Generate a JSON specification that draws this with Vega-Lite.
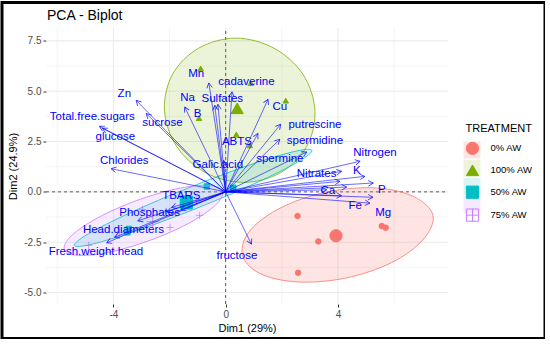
{
  "$schema": "https://vega.github.io/schema/vega-lite/v6.json",
  "width": 543,
  "height": 336,
  "autosize": {"type": "none"},
  "padding": {"left": 2, "top": 2.5, "right": 0, "bottom": 0},
  "background": "white",
  "title": {"text": "PCA - Biplot", "anchor": "start", "frame": "group", "offset": -20, "dx": 45, "fontSize": 14, "fontWeight": "normal", "font": "Liberation Sans", "color": "#000000"},
  "data": {"values": [{}]},
  "datasets": {
    "grid": [
      {"axis": "x", "v": -6, "major": false}, {"axis": "x", "v": -4, "major": true}, {"axis": "x", "v": -2, "major": false},
      {"axis": "x", "v": 0, "major": true}, {"axis": "x", "v": 2, "major": false}, {"axis": "x", "v": 4, "major": true},
      {"axis": "x", "v": 6, "major": false},
      {"axis": "y", "v": -5, "major": true}, {"axis": "y", "v": -3.75, "major": false}, {"axis": "y", "v": -2.5, "major": true},
      {"axis": "y", "v": -1.25, "major": false}, {"axis": "y", "v": 0, "major": true}, {"axis": "y", "v": 1.25, "major": false},
      {"axis": "y", "v": 2.5, "major": true}, {"axis": "y", "v": 3.75, "major": false}, {"axis": "y", "v": 5, "major": true},
      {"axis": "y", "v": 6.25, "major": false}, {"axis": "y", "v": 7.5, "major": true}
    ],
    "pts": [
      {"g": "0% AW", "x": 2.56, "y": -1.2}, {"g": "0% AW", "x": 3.3, "y": -2.46}, {"g": "0% AW", "x": 5.56, "y": -1.7},
      {"g": "0% AW", "x": 5.7, "y": -1.78}, {"g": "0% AW", "x": 2.58, "y": -4.02}, {"g": "0% AW", "x": 3.96, "y": -2.05},
      {"g": "100% AW", "x": -0.89, "y": 6.13}, {"g": "100% AW", "x": -0.95, "y": 3.66}, {"g": "100% AW", "x": 0.38, "y": 2.85},
      {"g": "100% AW", "x": 0.86, "y": 2.31}, {"g": "100% AW", "x": 2.14, "y": 4.53}, {"g": "100% AW", "x": 0.9, "y": 5.4},
      {"g": "50% AW", "x": -0.67, "y": 0.27}, {"g": "50% AW", "x": -1.46, "y": -0.42}, {"g": "50% AW", "x": -1.29, "y": -0.72},
      {"g": "50% AW", "x": -3.45, "y": -1.84}, {"g": "50% AW", "x": -3.5, "y": -2.01}, {"g": "50% AW", "x": 0.27, "y": 0.2},
      {"g": "75% AW", "x": -4.88, "y": -2.66}, {"g": "75% AW", "x": -1.98, "y": -1.77}, {"g": "75% AW", "x": -2.96, "y": -0.87},
      {"g": "75% AW", "x": -1.04, "y": -0.42}, {"g": "75% AW", "x": -3.79, "y": -2.01}, {"g": "75% AW", "x": -0.93, "y": -1.17}
    ],
    "means": [
      {"g": "0% AW", "x": 3.93, "y": -2.18}, {"g": "100% AW", "x": 0.41, "y": 4.15},
      {"g": "50% AW", "x": -1.4, "y": -0.51}, {"g": "75% AW", "x": -2.6, "y": -1.48}
    ],
    "ell": [
      {"g": "0% AW", "i": 0, "x": 7.386, "y": -1.179}, {"g": "0% AW", "i": 1, "x": 7.021, "y": -2.388}, {"g": "0% AW", "i": 2, "x": 5.907, "y": -3.517},
      {"g": "0% AW", "i": 3, "x": 4.268, "y": -4.284}, {"g": "0% AW", "i": 4, "x": 2.546, "y": -4.473}, {"g": "0% AW", "i": 5, "x": 1.2, "y": -4.04},
      {"g": "0% AW", "i": 6, "x": 0.593, "y": -3.095}, {"g": "0% AW", "i": 7, "x": 0.886, "y": -1.891}, {"g": "0% AW", "i": 8, "x": 2.004, "y": -0.761},
      {"g": "0% AW", "i": 9, "x": 3.639, "y": 0.005}, {"g": "0% AW", "i": 10, "x": 5.364, "y": 0.194}, {"g": "0% AW", "i": 11, "x": 6.707, "y": -0.239},
      {"g": "100% AW", "i": 0, "x": 3.179, "y": 4.055}, {"g": "100% AW", "i": 1, "x": 2.89, "y": 2.264}, {"g": "100% AW", "i": 2, "x": 1.96, "y": 0.958},
      {"g": "100% AW", "i": 3, "x": 0.64, "y": 0.473}, {"g": "100% AW", "i": 4, "x": -0.72, "y": 0.958}, {"g": "100% AW", "i": 5, "x": -1.75, "y": 2.264},
      {"g": "100% AW", "i": 6, "x": -2.179, "y": 4.055}, {"g": "100% AW", "i": 7, "x": -1.89, "y": 5.846}, {"g": "100% AW", "i": 8, "x": -0.96, "y": 7.139},
      {"g": "100% AW", "i": 9, "x": 0.36, "y": 7.637}, {"g": "100% AW", "i": 10, "x": 1.72, "y": 7.139}, {"g": "100% AW", "i": 11, "x": 2.75, "y": 5.846},
      {"g": "50% AW", "i": 0, "x": 3.071, "y": 2.065}, {"g": "50% AW", "i": 1, "x": 2.577, "y": 1.493}, {"g": "50% AW", "i": 2, "x": 1.082, "y": 0.443},
      {"g": "50% AW", "i": 3, "x": -1.014, "y": -0.806}, {"g": "50% AW", "i": 4, "x": -3.15, "y": -1.92}, {"g": "50% AW", "i": 5, "x": -4.752, "y": -2.597},
      {"g": "50% AW", "i": 6, "x": -5.393, "y": -2.662}, {"g": "50% AW", "i": 7, "x": -4.898, "y": -2.09}, {"g": "50% AW", "i": 8, "x": -3.404, "y": -1.04},
      {"g": "50% AW", "i": 9, "x": -1.307, "y": 0.209}, {"g": "50% AW", "i": 10, "x": 0.829, "y": 1.323}, {"g": "50% AW", "i": 11, "x": 2.43, "y": 2.0},
      {"g": "75% AW", "i": 0, "x": -0.114, "y": 0.025}, {"g": "75% AW", "i": 1, "x": -0.364, "y": -0.659}, {"g": "75% AW", "i": 2, "x": -1.3, "y": -1.547},
      {"g": "75% AW", "i": 3, "x": -2.671, "y": -2.398}, {"g": "75% AW", "i": 4, "x": -4.114, "y": -2.99}, {"g": "75% AW", "i": 5, "x": -5.236, "y": -3.157},
      {"g": "75% AW", "i": 6, "x": -5.743, "y": -2.861}, {"g": "75% AW", "i": 7, "x": -5.493, "y": -2.177}, {"g": "75% AW", "i": 8, "x": -4.557, "y": -1.289},
      {"g": "75% AW", "i": 9, "x": -3.186, "y": -0.438}, {"g": "75% AW", "i": 10, "x": -1.743, "y": 0.154}, {"g": "75% AW", "i": 11, "x": -0.621, "y": 0.321}
    ],
    "vars": [
      {"name": "Zn", "x": -3.19, "y": 4.55, "lx": -3.61, "ly": 4.85},
      {"name": "sucrose", "x": -2.83, "y": 3.89, "lx": -2.25, "ly": 3.41},
      {"name": "Total.free.sugars", "x": -4.5, "y": 3.26, "lx": -4.75, "ly": 3.71},
      {"name": "glucose", "x": -4.39, "y": 3.16, "lx": -3.93, "ly": 2.71},
      {"name": "Chlorides", "x": -4.08, "y": 1.15, "lx": -3.61, "ly": 1.53},
      {"name": "Na", "x": -1.46, "y": 4.22, "lx": -1.36, "ly": 4.67},
      {"name": "Mn", "x": -0.6, "y": 5.41, "lx": -1.05, "ly": 5.85},
      {"name": "B", "x": -0.39, "y": 4.3, "lx": -1.0, "ly": 3.86},
      {"name": "Sulfates", "x": -0.275, "y": 4.35, "lx": -0.12, "ly": 4.6},
      {"name": "cadaverine", "x": 0.225, "y": 4.97, "lx": 0.74, "ly": 5.45},
      {"name": "Cu", "x": 1.51, "y": 4.6, "lx": 1.93, "ly": 4.22},
      {"name": "putrescine", "x": 1.96, "y": 3.36, "lx": 3.18, "ly": 3.31},
      {"name": "spermidine", "x": 1.93, "y": 2.61, "lx": 3.18, "ly": 2.51},
      {"name": "spermine", "x": 2.89, "y": 1.98, "lx": 1.93, "ly": 1.65},
      {"name": "ABTS", "x": 1.15, "y": 2.9, "lx": 0.4, "ly": 2.48},
      {"name": "Galic.acid", "x": -0.07, "y": 1.57, "lx": -0.28, "ly": 1.32},
      {"name": "TBARS", "x": -1.93, "y": -0.77, "lx": -1.58, "ly": -0.22},
      {"name": "Phosphates", "x": -3.13, "y": -1.44, "lx": -2.71, "ly": -1.05},
      {"name": "Head.diameters", "x": -3.96, "y": -2.26, "lx": -3.64, "ly": -1.88},
      {"name": "Fresh.weight.head", "x": -4.24, "y": -2.53, "lx": -4.62, "ly": -3.01},
      {"name": "fructose", "x": 0.92, "y": -2.6, "lx": 0.4, "ly": -3.21},
      {"name": "Nitrogen", "x": 4.79, "y": 1.52, "lx": 5.32, "ly": 1.93},
      {"name": "K", "x": 4.96, "y": 0.77, "lx": 4.67, "ly": 1.03},
      {"name": "Nitrates", "x": 4.13, "y": 1.02, "lx": 3.24, "ly": 0.87},
      {"name": "P", "x": 5.26, "y": 0.44, "lx": 5.56, "ly": 0.11},
      {"name": "Ca", "x": 4.13, "y": -0.19, "lx": 3.64, "ly": 0.04},
      {"name": "Fe", "x": 5.14, "y": -0.56, "lx": 4.61, "ly": -0.69},
      {"name": "Mg", "x": 5.25, "y": -0.27, "lx": 5.61, "ly": -1.07},
      {"name": "", "x": 4.07, "y": 0.52, "lx": 4.07, "ly": 0.52},
      {"name": "", "x": 4.31, "y": 0.24, "lx": 4.31, "ly": 0.24},
      {"name": "", "x": 3.6, "y": 0.1, "lx": 3.6, "ly": 0.1},
      {"name": "", "x": -1.6, "y": -0.9, "lx": -1.6, "ly": -0.9},
      {"name": "", "x": -2.1, "y": -1.0, "lx": -2.1, "ly": -1.0}
    ]
  },
  "layer": [
    {
      "data": {"name": "grid"},
      "transform": [{"filter": "datum.axis === 'x'"}],
      "mark": {"type": "rule", "color": "#EBEBEB"},
      "encoding": {
        "x": {"field": "v", "type": "quantitative",
          "scale": {"domain": [-6.4, 7.92], "range": [44, 446], "nice": false, "zero": false},
          "axis": {"title": "Dim1 (29%)", "values": [-4, 0, 4], "format": "d", "offset": -34.5, "grid": false, "domain": false,
            "tickSize": 3, "tickColor": "#333333", "labelColor": "#4D4D4D", "labelFontSize": 10, "labelPadding": 2,
            "titleFontSize": 11, "titleFontWeight": "normal", "titleColor": "#000000", "titlePadding": 3}},
        "y": {"datum": -5.57, "type": "quantitative",
          "scale": {"domain": [-5.57, 8.14], "range": [301.5, 25.5], "nice": false, "zero": false},
          "axis": {"title": "Dim2 (24.9%)", "values": [-5, -2.5, 0, 2.5, 5, 7.5], "format": ".1f", "offset": -44, "grid": false, "domain": false,
            "tickSize": 3, "tickColor": "#333333", "labelColor": "#4D4D4D", "labelFontSize": 10, "labelPadding": 2,
            "titleFontSize": 11, "titleFontWeight": "normal", "titleColor": "#000000", "titlePadding": 5}},
        "y2": {"datum": 8.14},
        "strokeWidth": {"condition": {"test": "datum.major", "value": 1.1}, "value": 0.55}
      }
    },
    {
      "data": {"name": "grid"},
      "transform": [{"filter": "datum.axis === 'y'"}],
      "mark": {"type": "rule", "color": "#EBEBEB"},
      "encoding": {
        "y": {"field": "v", "type": "quantitative"},
        "x": {"datum": -6.4, "type": "quantitative"},
        "x2": {"datum": 7.92},
        "strokeWidth": {"condition": {"test": "datum.major", "value": 1.1}, "value": 0.55}
      }
    },
    {
      "mark": {"type": "rule", "color": "#333333", "strokeDash": [3, 3], "strokeWidth": 0.8},
      "encoding": {"x": {"datum": 0, "type": "quantitative"}, "y": {"datum": -5.57, "type": "quantitative"}, "y2": {"datum": 8.14}}
    },
    {
      "mark": {"type": "rule", "color": "#333333", "strokeDash": [3, 3], "strokeWidth": 0.8},
      "encoding": {"y": {"datum": 0, "type": "quantitative"}, "x": {"datum": -6.4, "type": "quantitative"}, "x2": {"datum": 7.92}}
    },
    {
      "data": {"name": "means"},
      "mark": {"type": "point", "shape": "square", "filled": true, "size": 0, "opacity": 1},
      "encoding": {
        "x": {"field": "x", "type": "quantitative"},
        "y": {"field": "y", "type": "quantitative"},
        "color": {"field": "g", "type": "nominal",
          "scale": {"range": ["#FDE4E2", "#ECF3DA", "#D9F4F5", "#F6EAFF"]},
          "legend": {"title": null, "orient": "none", "legendX": 461, "legendY": 138.5, "symbolType": "square", "symbolSize": 289,
            "rowPadding": 0.2, "labelExpr": "''", "labelOffset": 0, "zindex": 0,
            "encode": {"symbols": {"update": {"stroke": {"scale": "stroke", "field": "value"}, "strokeWidth": {"value": 1}}}}}}
      }
    },
    {
      "data": {"name": "pts"},
      "transform": [{"filter": "datum.g !== '75% AW'"}],
      "mark": {"type": "point", "filled": true, "size": 30, "strokeWidth": 1, "opacity": 1},
      "encoding": {
        "x": {"field": "x", "type": "quantitative"},
        "y": {"field": "y", "type": "quantitative"},
        "fill": {"field": "g", "type": "nominal", "title": "TREATMENT",
          "scale": {"domain": ["0% AW", "100% AW", "50% AW", "75% AW"], "range": ["#F8766D", "#7CAE00", "#00BFC4", "transparent"]},
          "legend": {"orient": "none", "legendX": 463.5, "legendY": 120.5, "symbolSize": 150, "rowPadding": 4.9, "titlePadding": 7.4, "labelOffset": 11, "zindex": 2, "titleAlign": "left", "titleAnchor": "start", "titleLimit": 200}},
        "stroke": {"field": "g", "type": "nominal", "title": "TREATMENT",
          "scale": {"domain": ["0% AW", "100% AW", "50% AW", "75% AW"], "range": ["#F8766D", "#7CAE00", "#00BFC4", "#C77CFF"]},
          "legend": {"orient": "none", "legendX": 463.5, "legendY": 120.5, "symbolSize": 150, "rowPadding": 4.9, "titlePadding": 7.4, "labelOffset": 11, "zindex": 2, "titleAlign": "left", "titleAnchor": "start", "titleLimit": 200}},
        "shape": {"field": "g", "type": "nominal", "title": "TREATMENT",
          "scale": {"domain": ["0% AW", "100% AW", "50% AW", "75% AW"], "range": ["circle", "triangle-up", "square", "M-1,-1H1V1H-1Z M0,-1V1 M-1,0H1"]},
          "legend": {"orient": "none", "legendX": 463.5, "legendY": 120.5, "symbolSize": 150, "rowPadding": 4.9, "titlePadding": 7.4, "labelOffset": 11, "zindex": 2, "titleAlign": "left", "titleAnchor": "start", "titleLimit": 200}}
      }
    },
    {
      "data": {"name": "pts"},
      "transform": [{"filter": "datum.g === '75% AW'"}],
      "mark": {"type": "point", "shape": "M0,-1V1M-1,0H1", "filled": false, "color": "#C77CFF", "size": 55, "strokeWidth": 0.8, "opacity": 0.9},
      "encoding": {"x": {"field": "x", "type": "quantitative"}, "y": {"field": "y", "type": "quantitative"}}
    },
    {
      "data": {"name": "ell"},
      "transform": [{"filter": "datum.g === '0% AW'"}],
      "mark": {"type": "line", "interpolate": "cardinal-closed", "fill": "#F8766D", "fillOpacity": 0.2, "stroke": "#F8766D", "strokeWidth": 0.8},
      "encoding": {"x": {"field": "x", "type": "quantitative"}, "y": {"field": "y", "type": "quantitative"}, "order": {"field": "i", "type": "quantitative"}}
    },
    {
      "data": {"name": "ell"},
      "transform": [{"filter": "datum.g === '100% AW'"}],
      "mark": {"type": "line", "interpolate": "cardinal-closed", "fill": "#7CAE00", "fillOpacity": 0.15, "stroke": "#7CAE00", "strokeWidth": 0.8},
      "encoding": {"x": {"field": "x", "type": "quantitative"}, "y": {"field": "y", "type": "quantitative"}, "order": {"field": "i", "type": "quantitative"}}
    },
    {
      "data": {"name": "ell"},
      "transform": [{"filter": "datum.g === '50% AW'"}],
      "mark": {"type": "line", "interpolate": "cardinal-closed", "fill": "#00BFC4", "fillOpacity": 0.15, "stroke": "#00BFC4", "strokeWidth": 0.8},
      "encoding": {"x": {"field": "x", "type": "quantitative"}, "y": {"field": "y", "type": "quantitative"}, "order": {"field": "i", "type": "quantitative"}}
    },
    {
      "data": {"name": "ell"},
      "transform": [{"filter": "datum.g === '75% AW'"}],
      "mark": {"type": "line", "interpolate": "cardinal-closed", "fill": "#C77CFF", "fillOpacity": 0.15, "stroke": "#C77CFF", "strokeWidth": 0.8},
      "encoding": {"x": {"field": "x", "type": "quantitative"}, "y": {"field": "y", "type": "quantitative"}, "order": {"field": "i", "type": "quantitative"}}
    },
    {
      "data": {"name": "means"},
      "transform": [{"filter": "datum.g !== '75% AW'"}],
      "mark": {"type": "point", "filled": true, "size": 150, "strokeWidth": 1, "opacity": 1},
      "encoding": {
        "x": {"field": "x", "type": "quantitative"},
        "y": {"field": "y", "type": "quantitative"},
        "fill": {"field": "g", "type": "nominal", "title": "TREATMENT"},
        "stroke": {"field": "g", "type": "nominal", "title": "TREATMENT"},
        "shape": {"field": "g", "type": "nominal", "title": "TREATMENT"}
      }
    },
    {
      "data": {"name": "means"},
      "transform": [{"filter": "datum.g === '75% AW'"}],
      "mark": {"type": "point", "shape": "M0,-1V1M-1,0H1", "filled": false, "color": "#C77CFF", "size": 150, "strokeWidth": 1, "opacity": 0.9},
      "encoding": {"x": {"field": "x", "type": "quantitative"}, "y": {"field": "y", "type": "quantitative"}}
    },
    {
      "data": {"name": "vars"},
      "mark": {"type": "rule", "color": "#0000FF", "strokeWidth": 0.9, "opacity": 0.65},
      "encoding": {"x": {"field": "x", "type": "quantitative"}, "y": {"field": "y", "type": "quantitative"}, "x2": {"datum": 0}, "y2": {"datum": 0}}
    },
    {
      "data": {"name": "vars"},
      "transform": [{"calculate": "atan2(datum.x * 28, datum.y * 20.1) * 180 / PI", "as": "ang"}],
      "mark": {"type": "point", "shape": "M0,0L-0.55,1M0,0L0.55,1", "filled": false, "color": "#0000FF", "size": 100, "strokeWidth": 0.9, "opacity": 0.75},
      "encoding": {"x": {"field": "x", "type": "quantitative"}, "y": {"field": "y", "type": "quantitative"}, "angle": {"field": "ang", "type": "quantitative", "scale": null}}
    },
    {
      "data": {"name": "vars"},
      "transform": [{"filter": "datum.name !== ''"}],
      "mark": {"type": "text", "font": "Liberation Sans", "fontSize": 11.5, "color": "#0000FF"},
      "encoding": {"x": {"field": "lx", "type": "quantitative"}, "y": {"field": "ly", "type": "quantitative"}, "text": {"field": "name", "type": "nominal"}}
    }
  ],
  "resolve": {"scale": {"color": "independent"}, "legend": {"color": "independent"}},
  "config": {
    "view": {"stroke": "#000000", "strokeWidth": 3, "fill": "white"},
    "locale": {"number": {"decimal": ".", "thousands": ",", "grouping": [3], "currency": ["$", ""], "minus": "-"}},
    "axis": {"labelFont": "Liberation Sans", "titleFont": "Liberation Sans"},
    "legend": {"titleFont": "Liberation Sans", "labelFont": "Liberation Sans", "titleFontSize": 11, "titleFontWeight": "normal", "titleColor": "#000000",
      "labelFontSize": 9.5, "labelColor": "#000000", "padding": 0, "symbolStrokeWidth": 1}
  }
}
